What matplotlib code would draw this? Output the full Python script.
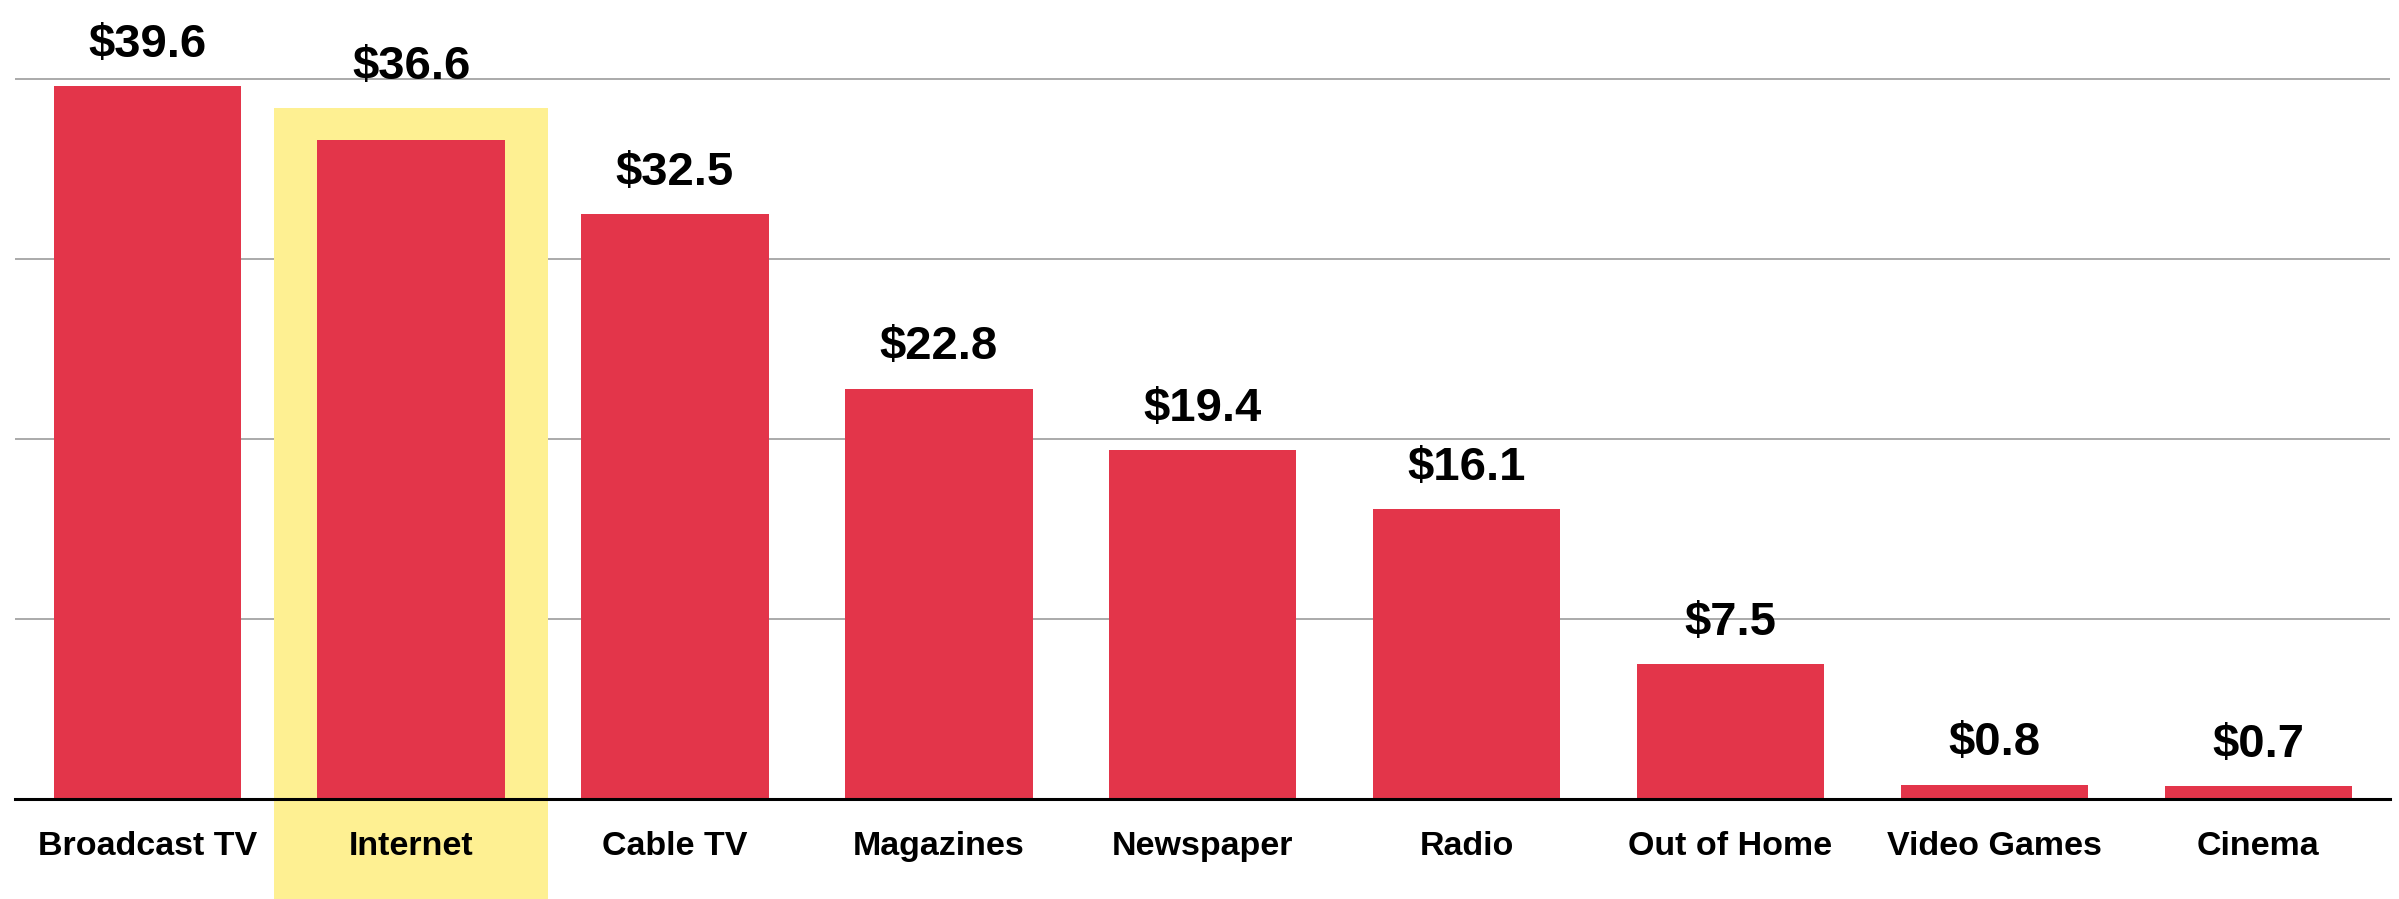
import matplotlib
matplotlib.use("Agg")
import matplotlib.pyplot as plt
from matplotlib.patches import Rectangle

# ad spend by medium, billions of dollars
media = ["Broadcast TV", "Internet", "Cable TV", "Magazines", "Newspaper",
         "Radio", "Out of Home", "Video Games", "Cinema"]
spend = [39.6, 36.6, 32.5, 22.8, 19.4, 16.1, 7.5, 0.8, 0.7]
gridlines = [10, 20, 30, 40]
highlight = "Internet"

plt.rcParams["font.family"] = ["Liberation Sans", "DejaVu Sans"]

RED = "#e3354a"
YELLOW = "#fef092"

fig = plt.figure(figsize=(23.99, 8.99), dpi=100)
ax = fig.add_axes([0.0064, 0.1112, 0.9899, 0.881])

x = list(range(len(media)))
ax.set_xlim(-0.5, len(media) - 0.5)
ax.set_ylim(0, 44)

ax.hlines(gridlines, -0.5, len(media) - 0.5, color="#aaaaaa", lw=1.4, zorder=0.5)

# yellow band behind the highlighted bar, running down past the labels
hi = media.index(highlight)
band_top = spend[hi] + 1.8
ax.add_patch(Rectangle((hi - 0.52, -8), 1.04, band_top + 8, facecolor=YELLOW,
                       edgecolor="none", zorder=1, clip_on=False))

ax.bar(x, spend, width=0.71, color=RED, zorder=2)

for i, v in enumerate(spend):
    top = band_top if i == hi else v
    ax.annotate(f"${v:.1f}", (i, top), xytext=(0, 21), textcoords="offset points",
                ha="center", va="baseline", fontsize=34, fontweight="bold",
                zorder=5, annotation_clip=False)

ax.set_xticks(x)
ax.set_xticklabels(media, fontsize=24.5, fontweight="bold")
ax.set_yticks([])
ax.tick_params(axis="x", length=0, pad=23)

for s in ["top", "left", "right"]:
    ax.spines[s].set_visible(False)
ax.spines["bottom"].set_color("black")
ax.spines["bottom"].set_linewidth(2.2)
ax.spines["bottom"].set_zorder(3)

fig.savefig("out.png", dpi=100)
